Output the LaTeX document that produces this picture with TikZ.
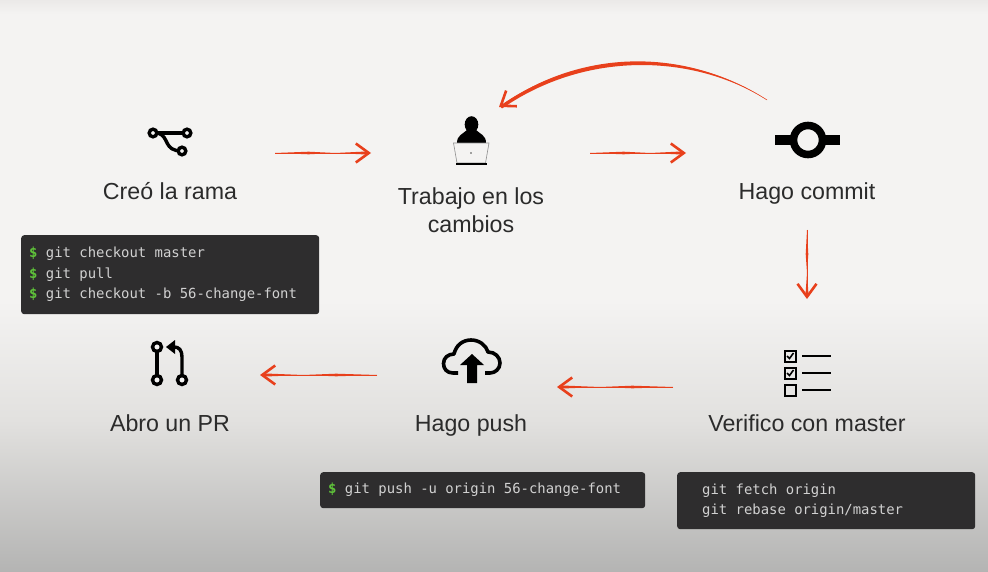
\documentclass[tikz,border=0pt]{standalone}
\usepackage{fontspec}
\setmainfont{Liberation Sans}
\newfontfamily\codefont{DejaVu Sans Mono}
\usepackage{tikz}
\usetikzlibrary{arrows.meta,calc}
\definecolor{bgedge}{HTML}{EBE9E8}
\definecolor{bgtop}{HTML}{F4F3F2}
\definecolor{bgmid}{HTML}{E2E1DF}
\definecolor{bgbot}{HTML}{B4B4B3}
\definecolor{arrowred}{HTML}{E8401C}
\definecolor{boxdark}{HTML}{2E2D2E}
\definecolor{promptgreen}{HTML}{5FC23A}
\definecolor{labelgrey}{HTML}{2B2B2B}
\newcommand{\codespaces}{\spaceskip=8.37pt\relax\xspaceskip=8.37pt\relax}
\tikzset{
	steplabel/.style={font=\fontsize{23.2}{28.5}\selectfont,text=labelgrey,align=center},
	flowarrow/.style={draw=arrowred,line width=0.5pt,-{Straight Barb[length=13pt,width=19pt,line width=2.6pt]}},
	codebox/.style={fill=boxdark,rounded corners=3pt,anchor=north west,text=white!82!black,align=left,
		font=\codefont\fontsize{13.9}{20.5}\selectfont,inner ysep=0pt,execute at begin node=\codespaces},
	icon/.style={draw=black,line width=3.4pt,fill=none},
}
\newcommand{\prompt}{\textcolor{promptgreen}{\textbf{\$}} }
% brush stroke: thin at the start, full width towards the head
\newcommand{\flowline}[2]{
	\draw[flowarrow] (#1) -- (#2);
	\fill[arrowred] (#1) -- ($(#1)!.35!(#2)!1.3pt!90:(#2)$) -- ($(#2)!3pt!(#1)!1.6pt!90:(#1)$)
		-- ($(#2)!3pt!(#1)!1.6pt!-90:(#1)$) -- ($(#1)!.35!(#2)!1.3pt!-90:(#2)$) -- cycle;
}
\begin{document}
\begin{tikzpicture}[x=1pt,y=-1pt]
	\useasboundingbox (0,0) rectangle (988,572);
	% background
	\fill[bgtop] (0,0) rectangle (988,300);
	\shade[top color=bgedge,bottom color=bgtop] (0,0) rectangle (988,14);
	\shade[top color=bgtop,bottom color=bgmid] (0,300) rectangle (988,420);
	\shade[top color=bgmid,bottom color=bgbot] (0,420) rectangle (988,572);

	% labels
	\node[steplabel,anchor=base] (rama) at (170,200) {Creó la rama};
	\node[steplabel] (trabajo) at (471,210) {Trabajo en los\\cambios};
	\node[steplabel,anchor=base] (commit) at (807,200) {Hago commit};
	\node[steplabel,anchor=base] (verifico) at (807,431) {Verifico con master};
	\node[steplabel,anchor=base] (push) at (471,431) {Hago push};
	\node[steplabel,anchor=base] (pr) at (170,431) {Abro un PR};

	% code
	\node[codebox,minimum width=298pt,minimum height=79pt,text width=282pt,inner xsep=8pt] (checkout) at (21,235)
		{\prompt git checkout master\\\prompt git pull\\\prompt git checkout -b 56-change-font};
	\node[codebox,minimum width=325pt,minimum height=36pt,text width=309pt,inner xsep=8pt] (pushcode) at (320,472)
		{\prompt git push -u origin 56-change-font};
	\node[codebox,minimum width=298pt,minimum height=57pt,text width=248pt,inner xsep=25pt] (rebase) at (677,472)
		{git fetch origin\\git rebase origin/master};

	% branch icon
	\draw[icon] (153,133) -- (187,133);
	\draw[icon] (158,133) .. controls (170,137) and (163,151) .. (182,151);
	\draw[icon,fill=bgtop] (153,133) circle (3.8pt);
	\draw[icon,fill=bgtop] (187,133) circle (3.8pt);
	\draw[icon,fill=bgtop] (182,151) circle (3.8pt);

	% person icon
	\fill[black] (471.5,124.5) ellipse (6.8pt and 8.3pt);
	\fill[black] (457,143) .. controls (457,135) and (463,134) .. (467,130) -- (476,130)
		.. controls (480,134) and (486,135) .. (486,143) -- cycle;
	\draw[black!45,line width=0.6pt] (453.5,143) -- (489,143) -- (485.5,163) -- (457,163) -- cycle;
	\draw[black,line width=1.2pt] (456,164) -- (487,164);
	\fill[black!70] (471,153) circle (0.9pt);

	% commit icon
	\fill[black] (775,135) rectangle (840,145);
	\draw[black,line width=7.6pt,fill=bgtop] (808,140) circle (14.5pt);

	% checklist icon
	\foreach \y in {356,373,390} {
		\draw[black,line width=2pt] (784.5,\y-5.5) rectangle (795.5,\y+5.5);
		\draw[black,line width=1.5pt] (802,\y) -- (831,\y);
	}
	\foreach \y in {356,373} {
		\draw[black,line width=1.6pt] (787,\y) -- (789.5,\y+2.5) -- (793.5,\y-3);
	}

	% cloud icon
	\draw[icon,line width=3.6pt,line join=round] (458,373) -- (453,373) .. controls (447,373) and (443.5,369) .. (443.5,363.5)
		.. controls (443.5,358) and (448,354) .. (454,354) .. controls (456,345) and (463,340) .. (471,340)
		.. controls (479,340) and (486,345) .. (488,352) .. controls (495,352) and (500,357) .. (500,363)
		.. controls (500,369) and (495,373) .. (490,373) -- (485,373);
	\fill[black] (472,354) -- (484,365) -- (477,365) -- (477,383) -- (467,383) -- (467,365) -- (460,365) -- cycle;

	% pull request icon
	\draw[icon] (157,347) -- (157,380);
	\draw[icon] (182,380) -- (182,357) .. controls (182,350) and (179,347) .. (174,347);
	\fill[black] (166,347) -- (175,340) -- (175,354) -- cycle;
	\draw[icon,fill=bgtop] (157,347) circle (4.5pt);
	\draw[icon,fill=bgtop] (157,380) circle (4.5pt);
	\draw[icon,fill=bgtop] (182,380) circle (4.5pt);

	% arrows
	\coordinate (ramaout) at (275,153);
	\coordinate (trabajoin) at (371,153);
	\coordinate (trabajoout) at (590,153);
	\coordinate (commitin) at (686,153);
	\coordinate (commitback) at (767,100);
	\coordinate (trabajoback) at (499,107);
	\coordinate (commitdown) at (807,230);
	\coordinate (verificoin) at (807,299);
	\coordinate (verificoout) at (673,387);
	\coordinate (pushin) at (557,387);
	\coordinate (pushout) at (377,375);
	\coordinate (prin) at (260,375);

	\flowline{ramaout}{trabajoin}
	\flowline{trabajoout}{commitin}
	\draw[flowarrow] (commitback) .. controls (690,50) and (585,48) .. (trabajoback);
	\fill[arrowred] (commitback) .. controls (688,49) and (585,46) .. (500,106) -- (502,108.5) .. controls (585,51) and (692,53) .. (commitback);
	\flowline{commitdown}{verificoin}
	\flowline{verificoout}{pushin}
	\flowline{pushout}{prin}
\end{tikzpicture}
\end{document}
